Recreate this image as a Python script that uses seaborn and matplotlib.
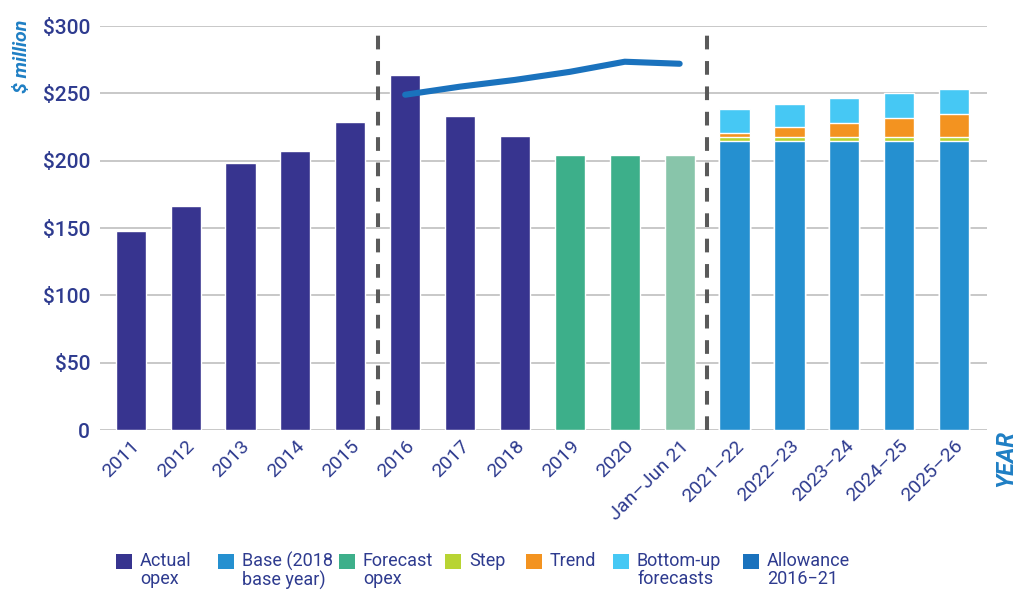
import matplotlib
matplotlib.use("Agg")
import matplotlib.pyplot as plt
from matplotlib.patches import Rectangle
import seaborn as sns
import pandas as pd

# Categories along the x axis
categories = ['2011', '2012', '2013', '2014', '2015', '2016', '2017', '2018',
              '2019', '2020', 'Jan–Jun 21', '2021–22', '2022–23', '2023–24',
              '2024–25', '2025–26']

# Actual opex ($ million)
actual_years = ['2011', '2012', '2013', '2014', '2015', '2016', '2017', '2018']
actual_opex = [148, 166, 198, 207, 229, 264, 233, 218]

# Forecast opex
forecast_years = ['2019', '2020']
forecast_opex = [204, 204]
half_year = ['Jan–Jun 21']
half_year_opex = [204]

# Proposed opex build-up for the next period
period_years = ['2021–22', '2022–23', '2023–24', '2024–25', '2025–26']
base = [214.5, 214.5, 214.5, 214.5, 214.5]
step = [3, 3, 3, 3, 3]
trend = [3.2, 7.7, 10.7, 14, 17]
bottom_up = [18, 16.8, 18.6, 18.5, 18.5]

# Allowance 2016–21
allowance_years = ['2016', '2017', '2018', '2019', '2020', 'Jan–Jun 21']
allowance = [249, 255, 260, 266, 273.5, 272]

legend_labels = ['Actual\nopex', 'Base (2018\nbase year)', 'Forecast\nopex',
                 'Step', 'Trend', 'Bottom-up\nforecasts', 'Allowance\n2016−21']

C_ACTUAL = '#37348f'
C_BASE = '#2590d0'
C_FORECAST = '#3daf8a'
C_HALF = '#88c5aa'
C_STEP = '#b8d433'
C_TREND = '#f39320'
C_BOTTOM = '#46c8f4'
C_ALLOW = '#1a72bd'
C_TEXT = '#2e3b8f'
C_AXIS = '#1f7fc4'

sns.set_theme(style='white')
plt.rcParams['font.family'] = ['Roboto', 'DejaVu Sans']

FW, FH = 1018, 592
fig = plt.figure(figsize=(FW / 100, FH / 100), dpi=100)
ax = fig.add_axes([0.0982, 0.2736, 0.9696 - 0.0982, 0.956 - 0.2736])

W = 0.55

def bars(x, y, color):
    sns.barplot(x=x, y=y, order=categories, color=color, width=W,
                saturation=1, ax=ax, zorder=3)

bars(actual_years, actual_opex, C_ACTUAL)
bars(forecast_years, forecast_opex, C_FORECAST)
bars(half_year, half_year_opex, C_HALF)

# Stacked build-up: draw cumulative totals back to front
layers = [base, step, trend, bottom_up]
colors = [C_BASE, C_STEP, C_TREND, C_BOTTOM]
cum = []
running = [0] * len(period_years)
for layer in layers:
    running = [r + v for r, v in zip(running, layer)]
    cum.append(running)
for totals, col in zip(reversed(cum), reversed(colors)):
    bars(period_years, totals, col)

# Allowance line
allow_df = pd.DataFrame({'x': [categories.index(c) for c in allowance_years],
                         'y': allowance})
sns.lineplot(data=allow_df, x='x', y='y', color=C_ALLOW, lw=4.4,
             solid_capstyle='round', ax=ax, zorder=4)

# Period separators
for xpos in (4.5, 10.5):
    ax.plot([xpos, xpos], [0, 295], color='#5a5a5a', lw=2.9,
            dashes=(3.4, 2.9), zorder=5)

ax.set_xlim(-0.56, 15.6)
ax.set_ylim(0, 300)
ax.set_yticks([0, 50, 100, 150, 200, 250, 300])
ax.set_yticklabels(['0', '$50', '$100', '$150', '$200', '$250', '$300'])
ax.grid(axis='y', color='#c4c4c4', lw=1.3, zorder=0)
ax.grid(axis='x', visible=False)
for s in ax.spines.values():
    s.set_visible(False)
ax.set_xticks(range(len(categories)))
ax.set_xticklabels(categories, rotation=45, ha='right', rotation_mode='anchor')
ax.tick_params(axis='y', length=0, pad=7, labelsize=15, labelcolor=C_TEXT)
ax.tick_params(axis='x', length=0, pad=5, labelsize=14, labelcolor=C_TEXT)
for t in ax.get_yticklabels():
    t.set_fontweight('medium')
ax.set_xlabel('')
ax.set_ylabel('')

fig.text(0.022, 0.905, '$ million', rotation=90, ha='center', va='center',
         color=C_AXIS, fontsize=14, fontweight='bold', style='italic')
fig.text(0.988, 0.225, 'YEAR', rotation=90, ha='center', va='center',
         color=C_AXIS, fontsize=17, fontweight='bold', style='italic')

# Legend: square swatch level with the first text line
legend_colors = [C_ACTUAL, C_BASE, C_FORECAST, C_STEP, C_TREND, C_BOTTOM, C_ALLOW]
legend_x = [116, 218, 339, 445, 526, 613, 743]
row_y = 561
for lab, col, x0 in zip(legend_labels, legend_colors, legend_x):
    fig.patches.append(Rectangle((x0 / FW, 1 - (row_y + 8) / FH), 16 / FW, 15 / FH,
                                 transform=fig.transFigure, facecolor=col,
                                 edgecolor='none'))
    fig.text((x0 + 24) / FW, 1 - (row_y - 9) / FH, lab, ha='left', va='top',
             fontsize=13, color=C_TEXT, linespacing=1.0)

fig.savefig('out.png', dpi=100)
